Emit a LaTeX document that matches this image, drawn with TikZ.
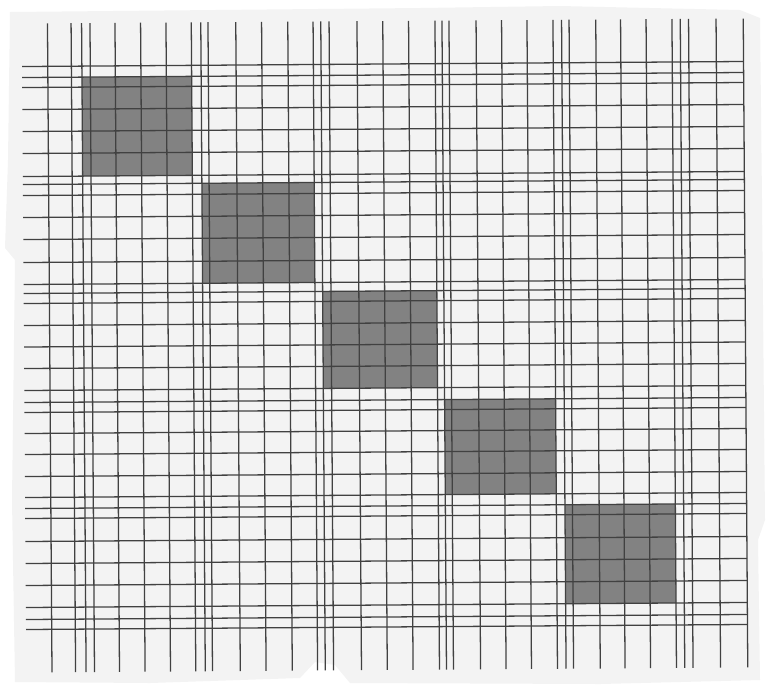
\documentclass[tikz,border=0pt]{standalone}
\definecolor{paperGray}{RGB}{243,243,243}
\definecolor{inkGray}{RGB}{65,65,65}
\definecolor{blockGray}{RGB}{130,130,130}
\usepackage{tikz}
\begin{document}
\begin{tikzpicture}[
      x=0.03cm, y=-0.03cm,
      gridline/.style={draw=inkGray, line width=1.1pt},
      blockfill/.style={fill=blockGray}
    ]
      \useasboundingbox (0,0) rectangle (769,686);

      % Paper sheet
      \fill[paperGray] (10,12) -- (420,8) -- (560,6) -- (740,10) -- (760,18)
        -- (762,200) -- (765,520) -- (758,540) -- (760,680) -- (600,684)
        -- (350,683) -- (335,665) -- (315,662) -- (300,678) -- (150,683)
        -- (15,682) -- (12,500) -- (15,260) -- (5,248) -- (8,160) -- cycle;

      \begin{scope}[rotate around={0.4:(384,343)}]
      % Shaded blocks on the diagonal
      \foreach \xa/\xb/\ya/\yb in {83.8/193.5/75/174, 203/315.3/182/282,
          323/437.2/291/388, 444.2/555.2/400/495, 563.8/674.2/506/605}
        \fill[blockfill] (\xa,\ya) rectangle (\xb,\yb);

      % Vertical lines
      \foreach \x in {49.7, 73.3, 83.8, 92.2, 117.2, 142.8, 168.2,
          193.5, 203, 210.2, 238, 263.8, 290, 315.3, 323, 331.3,
          359.2, 385, 410.8, 437.2, 444.2, 451.2, 478.3, 503.8, 529.2,
          555.2, 563.8, 571.3, 598, 622.8, 648.3, 674.2, 682.5, 690.8,
          718.3, 745.5}
        \draw[gridline] (\x,21) -- (\x,670);

      % Horizontal lines
      \foreach \y in {64, 75, 85, 107, 129, 151, 174, 182, 193, 215,
          237, 260, 282, 291, 301, 323, 344.5, 366, 388, 400, 410, 431,
          452, 474, 495, 506, 516, 539, 561, 583, 605, 617, 627}
        \draw[gridline] (24,\y) -- (745.5,\y);
      \end{scope}
    \end{tikzpicture}
\end{document}
